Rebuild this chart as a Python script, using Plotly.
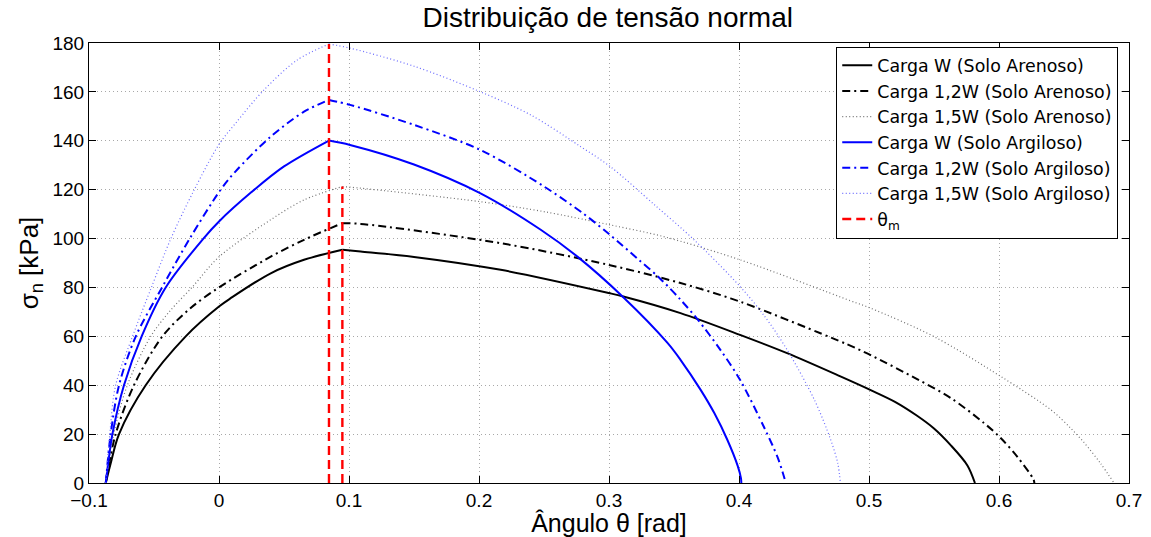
import plotly.graph_objects as go

# ---- data ----
x_w_are = [-0.0871, -0.0833, -0.0769, -0.0564, -0.0256, 0.0, 0.009, 0.0398, 0.0654, 0.0949,
           0.109, 0.15, 0.2167, 0.3, 0.311, 0.355, 0.4008, 0.437, 0.478, 0.5013, 0.52, 0.537, 0.55, 0.5628, 0.5757, 0.5815]
y_w_are = [0, 8.1, 20, 40, 60, 72.2, 75.6, 85.8, 91.3, 95.4,
           94.7, 92.5, 87.2, 77.7, 76.3, 69.5, 60.6, 53.1, 43.6, 38.0, 33.2, 27.5, 22.3, 15.5, 7.2, 0]

x_12w_are = [-0.0871, -0.0795, -0.0654, -0.0435, -0.022, 0.0, 0.0398, 0.0654, 0.0949,
             0.109, 0.2167, 0.3, 0.355, 0.4008, 0.478, 0.486, 0.5013, 0.537, 0.5628, 0.5885, 0.6013, 0.614, 0.6265, 0.6272]
y_12w_are = [0, 20, 40, 60, 71.5, 80.0, 92.6, 99.5, 106.3,
             106.0, 98.1, 89.2, 81.8, 74.2, 57.9, 56.1, 52.3, 42.5, 34.8, 24.5, 18.4, 10.8, 1.5, 0]

x_15w_are = [-0.0871, -0.081, -0.0705, -0.0525, -0.0375, -0.02, 0.0, 0.0398, 0.0654, 0.0949,
             0.109, 0.2008, 0.25, 0.3008, 0.342, 0.4008, 0.486, 0.5013, 0.55, 0.6013, 0.64, 0.655, 0.665, 0.678, 0.6885]
y_15w_are = [0, 20, 40, 60, 70.5, 80.5, 92.5, 107.7, 115.8, 121.3,
             120.6, 115.1, 111.0, 105.6, 100.8, 91.3, 74.5, 71.5, 59.9, 43.6, 29.9, 22.5, 16.8, 8.1, 0]

x_w_arg = [-0.0871, -0.085, -0.082, -0.0731, -0.0595, -0.041, -0.012, 0.0, 0.025, 0.05, 0.0846,
           0.1008, 0.15, 0.2008, 0.2475, 0.2757, 0.311, 0.345, 0.355, 0.3705, 0.381, 0.391, 0.399, 0.4015, 0.4018]
y_w_arg = [0, 9, 20, 40, 60, 80, 100, 107, 119, 129.5, 140.1,
           138.3, 130.3, 118.6, 103.6, 92.6, 76.0, 57.3, 50.4, 38.1, 28.6, 17.7, 7.0, 2.0, 0]

x_12w_arg = [-0.0871, -0.0833, -0.0769, -0.064, -0.0438, -0.0225, 0.0013, 0.0128, 0.0398, 0.0654, 0.0846,
             0.1008, 0.15, 0.2008, 0.25, 0.2808, 0.3008, 0.323, 0.339, 0.355, 0.368, 0.385, 0.4008, 0.419, 0.4295, 0.4335, 0.436]
y_12w_arg = [0, 20, 40, 60, 80, 100, 120, 127.5, 141.7, 151.9, 156.7,
             154.7, 146.5, 136.3, 121.3, 110.0, 101.5, 91.3, 83.8, 75.0, 67.0, 55.0, 42.2, 23.1, 10.8, 4.5, 0]

x_15w_arg = [-0.0871, -0.084, -0.0795, -0.0665, -0.052, -0.037, -0.019, 0.0, 0.0128, 0.0346, 0.0603, 0.0846,
             0.1008, 0.15, 0.2008, 0.24, 0.2782, 0.3008, 0.335, 0.3654, 0.4008, 0.42, 0.437, 0.458, 0.4705, 0.476, 0.478]
y_15w_arg = [0, 20, 40, 60, 80, 100, 120, 138.5, 147.2, 160.8, 173.1, 179.6,
             177.9, 170.5, 160.1, 150.5, 137.6, 129.5, 113.8, 99.5, 80.4, 68.0, 54.5, 34.0, 17.7, 8.0, 0]

theta_m = [0.0846, 0.0949]
theta_m_top = [179.6, 121.3]

x_ticks = [-0.1, 0, 0.1, 0.2, 0.3, 0.4, 0.5, 0.6, 0.7]
x_tick_text = ["−0.1", "0", "0.1", "0.2", "0.3", "0.4", "0.5", "0.6", "0.7"]
y_ticks = [0, 20, 40, 60, 80, 100, 120, 140, 160, 180]

FONT = "Liberation Sans, Arial, Helvetica, sans-serif"
LEGFONT = "DejaVu Sans, Liberation Sans, sans-serif"

fig = go.Figure()

series = [
    (x_w_are, y_w_are, "Carga W (Solo Arenoso)", "black", "solid", 2),
    (x_12w_are, y_12w_are, "Carga 1,2W (Solo Arenoso)", "black", "8px,4px,2px,4px", 2),
    (x_15w_are, y_15w_are, "Carga 1,5W (Solo Arenoso)", "#707070", "1px,2.5px", 1.2),
    (x_w_arg, y_w_arg, "Carga W (Solo Argiloso)", "#0000ff", "solid", 2),
    (x_12w_arg, y_12w_arg, "Carga 1,2W (Solo Argiloso)", "#0000ff", "8px,4px,2px,4px", 2),
    (x_15w_arg, y_15w_arg, "Carga 1,5W (Solo Argiloso)", "#6a6aff", "1px,2.5px", 1.2),
]
for k, (xs, ys, name, col, dash, w) in enumerate(series):
    ip = ys.index(max(ys))  # peak is a sharp corner: draw rising and falling parts separately
    for part, (px, py) in enumerate([(xs[:ip + 1], ys[:ip + 1]), (xs[ip:], ys[ip:])]):
        fig.add_trace(go.Scatter(x=px, y=py, mode="lines", name=name, legendgroup=f"g{k}",
                                 showlegend=(part == 0), line_shape="spline",
                                 line=dict(color=col, dash=dash, width=w, smoothing=0.9)))

for i, (t, h) in enumerate(zip(theta_m, theta_m_top)):
    fig.add_trace(go.Scatter(x=[t, t], y=[0, h], mode="lines", name="θ<sub>m</sub>",
                             showlegend=(i == 0), legendgroup="tm",
                             line=dict(color="#ff0000", dash="9px,5px", width=2.4)))

fig.update_layout(
    width=1151, height=537,
    margin=dict(l=89, r=22, t=43, b=54),
    paper_bgcolor="white", plot_bgcolor="white",
    font=dict(family=FONT, size=19, color="black"),
    title=dict(text="Distribuição de tensão normal", x=0.528, xanchor="center",
               y=0.968, yanchor="middle", font=dict(size=28)),
    legend=dict(x=0.7185, y=0.992, xanchor="left", yanchor="top",
                bordercolor="black", borderwidth=1, bgcolor="white",
                font=dict(size=17.4, family=LEGFONT), tracegroupgap=0, itemwidth=30),
    showlegend=True,
)
fig.update_xaxes(range=[-0.1, 0.7], tickvals=x_ticks, ticktext=x_tick_text, automargin=False,
                 ticks="inside", ticklen=7, tickcolor="black", showline=True, linecolor="black", linewidth=1,
                 mirror="ticks", showgrid=True, gridcolor="#a8a8a8", griddash="1px,3px", gridwidth=1,
                 zeroline=False, tickfont=dict(size=19),
                 title=dict(text="Ângulo θ [rad]", font=dict(size=25), standoff=2))
fig.update_yaxes(range=[0, 180], tickvals=y_ticks, automargin=False,
                 ticks="inside", ticklen=7, tickcolor="black", showline=True, linecolor="black", linewidth=1,
                 mirror="ticks", showgrid=True, gridcolor="#a8a8a8", griddash="1px,3px", gridwidth=1,
                 zeroline=False, tickfont=dict(size=19),
                 title=dict(text="σ<sub>n</sub> [kPa]", font=dict(size=26), standoff=6))

fig.write_html("out.html")
